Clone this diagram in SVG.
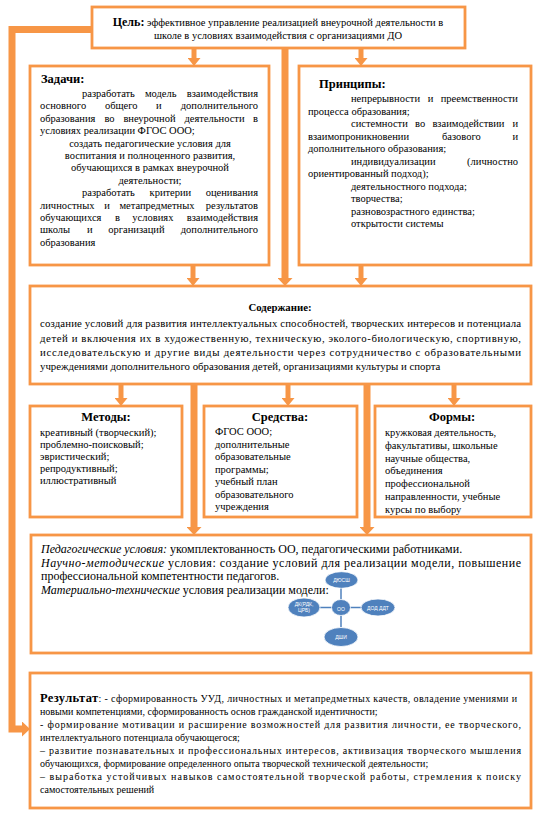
<svg xmlns="http://www.w3.org/2000/svg" width="536" height="815" viewBox="0 0 536 815">
<style>
.bg{fill:#ffffff}
.box{fill:#ffffff;stroke:#F79646;stroke-width:2.8}
.t{font-family:'Liberation Serif','Times New Roman','DejaVu Serif',serif;font-size:10.5px;fill:#000}
.h{font-weight:bold;font-size:12.5px}
.c{font-size:10.8px}
.r{font-size:10px}
.k{font-size:12px}
.i{font-style:italic}
.m{text-anchor:middle}
.e{text-anchor:end}
.ln{stroke:#F79646;stroke-width:5;fill:none}
.lnb{stroke:#F79646;stroke-width:7;fill:none;stroke-linejoin:miter}
.oval{fill:#4F81BD;stroke:#ffffff;stroke-width:0.8}
.ol{stroke:#4F81BD;stroke-width:1.5}
.ot{font-family:'Liberation Sans',Arial,sans-serif;fill:#fff;font-size:5px;text-anchor:middle}
</style>
<defs>
<marker id="ah" markerUnits="userSpaceOnUse" viewBox="0 0 8 13" refX="0" refY="6.5" markerWidth="8" markerHeight="13" orient="auto"><path d="M0,0 L8,6.5 L0,13 Z" fill="#F79646"/></marker>
<marker id="ahb" markerUnits="userSpaceOnUse" viewBox="0 0 8 15" refX="0" refY="7.5" markerWidth="8" markerHeight="15" orient="auto"><path d="M0,0 L8,7.5 L0,15 Z" fill="#F79646"/></marker>
</defs>
<rect class="bg" x="0" y="0" width="536" height="815"/>

<g id="connectors">
<path class="lnb" d="M92,29.5 H12 V729 H22" marker-end="url(#ahb)"/>
<line class="ln" x1="194" y1="48" x2="194" y2="58" marker-end="url(#ah)"/>
<line class="ln" x1="361" y1="48" x2="361" y2="58" marker-end="url(#ah)"/>
<line class="lnb" x1="285" y1="48" x2="285" y2="278" marker-end="url(#ahb)"/>
<line class="ln" x1="193" y1="265" x2="193" y2="278" marker-end="url(#ah)"/>
<line class="ln" x1="361" y1="265" x2="361" y2="278" marker-end="url(#ah)"/>
<line class="ln" x1="121" y1="384" x2="121" y2="398" marker-end="url(#ah)"/>
<line class="ln" x1="288" y1="384" x2="288" y2="398" marker-end="url(#ah)"/>
<line class="ln" x1="454" y1="384" x2="454" y2="398" marker-end="url(#ah)"/>
<line class="lnb" x1="194" y1="384" x2="194" y2="527" marker-end="url(#ahb)"/>
<line class="lnb" x1="367" y1="384" x2="367" y2="527" marker-end="url(#ahb)"/>
</g>

<g font-family="Liberation Serif, Times New Roman, DejaVu Serif, serif">
<g id="goal">
<rect class="box" x="92" y="7" width="373" height="41"/>
<text class="t m" x="278" y="26" font-size="10.7"><tspan font-weight="bold" font-size="12">Цель:</tspan> эффективное управление реализацией внеурочной деятельности в</text>
<text class="t m" x="278" y="39" font-size="10.7">школе в условиях взаимодействия с организациями ДО</text>
</g>

<g id="tasks">
<rect class="box" x="30" y="66" width="239" height="199"/>
<text class="t h" x="41" y="83">Задачи:</text>
<text class="t" x="82" y="97">разработать</text><text class="t m" x="160.7" y="97">модель</text><text class="t e" x="258" y="97">взаимодействия</text>
<text class="t" x="40" y="109.4">основного</text><text class="t m" x="121.2" y="109.4">общего</text><text class="t m" x="158.9" y="109.4">и</text><text class="t e" x="258" y="109.4">дополнительного</text>
<text class="t" x="40" y="121.8">образования</text><text class="t m" x="109.5" y="121.8">во</text><text class="t m" x="149.5" y="121.8">внеурочной</text><text class="t m" x="214.5" y="121.8">деятельности</text><text class="t e" x="258" y="121.8">в</text>
<text class="t" x="40" y="134.2">условиях реализации ФГОС ООО;</text>
<text class="t m" x="150" y="146.6">создать педагогические условия для</text>
<text class="t m" x="150" y="159">воспитания и полноценного развития,</text>
<text class="t m" x="150" y="171.4">обучающихся в рамках внеурочной</text>
<text class="t m" x="150" y="183.8">деятельности;</text>
<text class="t" x="82" y="196.2">разработать</text><text class="t m" x="170.4" y="196.2">критерии</text><text class="t e" x="258" y="196.2">оценивания</text>
<text class="t" x="40" y="208.6">личностных</text><text class="t m" x="107" y="208.6">и</text><text class="t m" x="157" y="208.6">метапредметных</text><text class="t e" x="258" y="208.6">результатов</text>
<text class="t" x="40" y="221">обучающихся</text><text class="t m" x="117.4" y="221">в</text><text class="t m" x="152.9" y="221">условиях</text><text class="t e" x="258" y="221">взаимодействия</text>
<text class="t" x="40" y="233.4">школы</text><text class="t m" x="89.7" y="233.4">и</text><text class="t m" x="136.4" y="233.4">организаций</text><text class="t e" x="258" y="233.4">дополнительного</text>
<text class="t" x="40" y="245.8">образования</text>
</g>

<g id="principles">
<rect class="box" x="299" y="66" width="232" height="199"/>
<text class="t h" x="319" y="88">Принципы:</text>
<text class="t" x="351" y="102">непрерывности</text><text class="t m" x="430.5" y="102">и</text><text class="t e" x="518" y="102">преемственности</text>
<text class="t" x="308" y="114.5">процесса образования;</text>
<text class="t" x="351" y="127">системности</text><text class="t" x="415" y="127">во</text><text class="t" x="432.4" y="127">взаимодействии</text><text class="t e" x="518" y="127">и</text>
<text class="t" x="308" y="139.5">взаимопроникновении</text><text class="t" x="442" y="139.5">базового</text><text class="t e" x="518" y="139.5">и</text>
<text class="t" x="308" y="152">дополнительного образования;</text>
<text class="t" x="351" y="164.5">индивидуализации</text><text class="t e" x="518" y="164.5">(личностно</text>
<text class="t" x="308" y="177">ориентированный подход);</text>
<text class="t" x="351" y="189.5">деятельностного подхода;</text>
<text class="t" x="351" y="202">творчества;</text>
<text class="t" x="351" y="214.5">разновозрастного единства;</text>
<text class="t" x="351" y="227">открытости системы</text>
</g>

<g id="content">
<rect class="box" x="30" y="286" width="501" height="98"/>
<text class="t c m" x="280" y="311" font-weight="bold">Содержание:</text>
<text class="t c" x="40" y="327" textLength="481" lengthAdjust="spacing">создание условий для развития интеллектуальных способностей, творческих интересов и потенциала</text>
<text class="t c" x="40" y="341.5" textLength="481" lengthAdjust="spacing">детей и включения их в художественную, техническую, эколого-биологическую, спортивную,</text>
<text class="t c" x="40" y="356" textLength="481" lengthAdjust="spacing">исследовательскую и другие виды деятельности через сотрудничество с образовательными</text>
<text class="t c" x="40" y="370">учреждениями дополнительного образования детей, организациями культуры и спорта</text>
</g>

<g id="methods">
<rect class="box" x="30" y="406" width="152" height="111"/>
<text class="t h m" x="106" y="421">Методы:</text>
<text class="t" x="40" y="436">креативный (творческий);</text>
<text class="t" x="40" y="448">проблемно-поисковый;</text>
<text class="t" x="40" y="460">эвристический;</text>
<text class="t" x="40" y="472">репродуктивный;</text>
<text class="t" x="40" y="484">иллюстративный</text>
</g>

<g id="means">
<rect class="box" x="204" y="406" width="153" height="111"/>
<text class="t h m" x="280" y="421">Средства:</text>
<text class="t" x="215" y="435">ФГОС ООО;</text>
<text class="t" x="215" y="447.5">дополнительные</text>
<text class="t" x="215" y="460">образовательные</text>
<text class="t" x="215" y="472.5">программы;</text>
<text class="t" x="215" y="485">учебный план</text>
<text class="t" x="215" y="497.5">образовательного</text>
<text class="t" x="215" y="510">учреждения</text>
</g>

<g id="forms">
<rect class="box" x="375" y="406" width="156" height="111"/>
<text class="t h m" x="452" y="421">Формы:</text>
<text class="t" x="385" y="436">кружковая деятельность,</text>
<text class="t" x="385" y="449">факультативы, школьные</text>
<text class="t" x="385" y="461.5">научные общества,</text>
<text class="t" x="385" y="474">объединения</text>
<text class="t" x="385" y="487">профессиональной</text>
<text class="t" x="385" y="500">направленности, учебные</text>
<text class="t" x="385" y="512.5">курсы по выбору</text>
</g>

<g id="conditions">
<rect class="box" x="31" y="535" width="500" height="118"/>
<text class="t k" x="41" y="553"><tspan class="i">Педагогические условия:</tspan> укомплектованность ОО, педагогическими работниками.</text>
<text class="t k" x="41" y="566.5" textLength="480" lengthAdjust="spacing"><tspan class="i">Научно-методические</tspan> условия: создание условий для реализации модели, повышение</text>
<text class="t k" x="41" y="580">профессиональной компетентности педагогов.</text>
<text class="t k" x="41" y="593.5"><tspan class="i">Материально-технические</tspan> условия реализации модели:</text>
<g id="oo-model">
<line class="ol" x1="341" y1="588" x2="341" y2="600"/>
<line class="ol" x1="320" y1="607.5" x2="332" y2="607.5"/>
<line class="ol" x1="350" y1="607.5" x2="361" y2="607.5"/>
<line class="ol" x1="341" y1="615" x2="341" y2="627"/>
<ellipse class="oval" cx="341.5" cy="580" rx="16.5" ry="8.3"/>
<ellipse class="oval" cx="304" cy="607.5" rx="16" ry="9.5"/>
<ellipse class="oval" cx="341" cy="607.5" rx="9.5" ry="8"/>
<ellipse class="oval" cx="378" cy="607.5" rx="17" ry="8.5"/>
<ellipse class="oval" cx="341" cy="637" rx="17" ry="9.5"/>
<text class="ot" x="341.5" y="582">ДЮСШ</text>
<text class="ot" x="304" y="606" font-size="4.5">ДК(РДК,</text>
<text class="ot" x="304" y="611.5" font-size="4.5">ЦРБ)</text>
<text class="ot" x="341" y="611" font-size="10">ОО</text>
<text class="ot" x="378" y="609.5">ДОД ДДТ</text>
<text class="ot" x="341" y="639">ДШИ</text>
</g>
</g>

<g id="result">
<rect class="box" x="30" y="673" width="501" height="135"/>
<text class="t r" x="40" y="702" textLength="477" lengthAdjust="spacing"><tspan font-weight="bold" font-size="12.5">Результат</tspan>: - сформированность УУД, личностных и метапредметных качеств, овладение умениями и</text>
<text class="t r" x="40" y="715">новыми компетенциями, сформированность основ гражданской идентичности;</text>
<text class="t r" x="40" y="728" textLength="481" lengthAdjust="spacing">- формирование мотивации и расширение возможностей для развития личности, ее творческого,</text>
<text class="t r" x="40" y="741">интеллектуального потенциала обучающегося;</text>
<text class="t r" x="40" y="754" textLength="481" lengthAdjust="spacing">– развитие познавательных и профессиональных интересов, активизация творческого мышления</text>
<text class="t r" x="40" y="767">обучающихся, формирование определенного опыта творческой технической деятельности;</text>
<text class="t r" x="40" y="780" textLength="481" lengthAdjust="spacing">– выработка устойчивых навыков самостоятельной творческой работы, стремления к поиску</text>
<text class="t r" x="40" y="793">самостоятельных решений</text>
</g>
</g>
</svg>
